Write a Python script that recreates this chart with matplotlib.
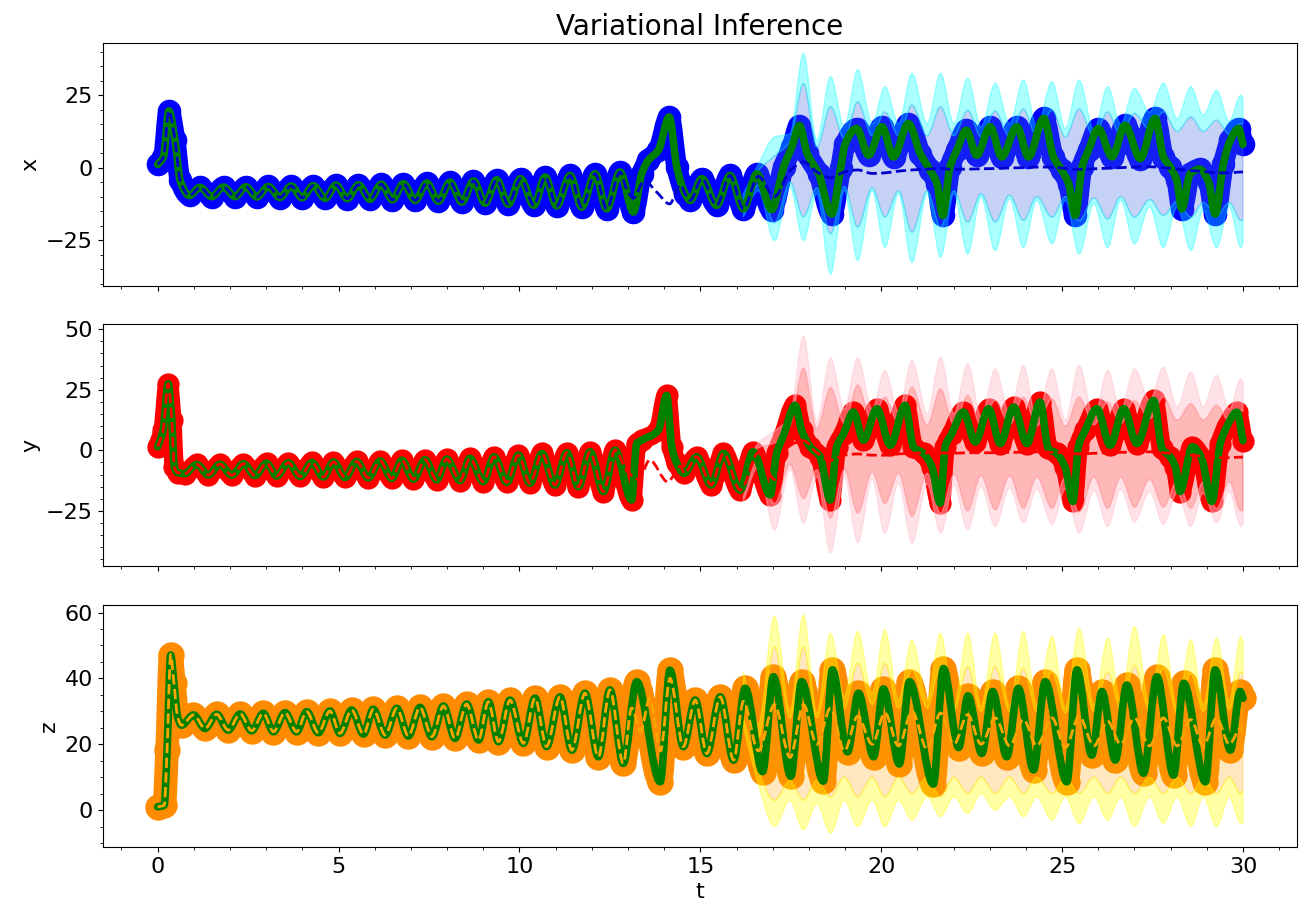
import numpy as np
import matplotlib
matplotlib.use("Agg")
import matplotlib.pyplot as plt
from matplotlib.path import Path
from matplotlib.patches import PathPatch

# ---- true trajectory (turning points of each component) ----
t_x = [0.00, 0.16, 0.31, 0.48, 0.62, 0.88, 1.17, 1.49, 1.82, 2.14, 2.44, 2.74, 3.06, 3.38, 3.69, 3.99,
       4.30, 4.63, 4.93, 5.24, 5.55, 5.87, 6.18, 6.49, 6.79, 7.12, 7.44, 7.76, 8.08, 8.41, 8.73, 9.05,
       9.37, 9.69, 10.03, 10.40, 10.71, 11.03, 11.40, 11.72, 12.09, 12.41, 12.78, 13.15, 13.38, 13.56,
       13.84, 14.14, 14.35, 14.58, 14.72, 15.04, 15.45, 15.82, 16.19, 16.56, 16.97, 17.30, 17.53, 17.74,
       17.95, 18.27, 18.63, 18.88, 19.00, 19.32, 19.65, 20.02, 20.34, 20.75, 21.08, 21.35, 21.54, 21.70,
       21.90, 22.09, 22.35, 22.64, 23.01, 23.33, 23.75, 24.07, 24.49, 24.76, 24.99, 25.18, 25.36, 25.55,
       25.73, 26.00, 26.38, 26.74, 27.16, 27.57, 27.80, 27.99, 28.17, 28.31, 28.54, 28.80, 29.05, 29.23,
       29.46, 29.65, 29.88, 30.00]
x_true = [1.1, 3.7, 19.6, 9.4, -4.4, -9.6, -6.8, -10.0, -6.7, -10.0, -6.6, -10.1, -6.5, -10.3, -6.3, -10.4,
          -6.2, -10.6, -6.0, -10.7, -5.9, -10.9, -5.7, -11.1, -5.5, -11.3, -5.3, -11.6, -5.0, -11.9, -4.6, -12.3,
          -4.2, -12.6, -3.8, -13.0, -3.2, -13.2, -2.7, -13.6, -2.1, -14.2, -1.5, -15.3, -2.1, 2.5,
          6.0, 17.5, 0.2, -9.0, -11.3, -3.8, -13.0, -2.7, -14.2, -2.1, -14.5, 0.2, 7.1, 14.5,
          5.0, -2.1, -16.0, 0.0, 8.0, 13.5, 4.3, 14.1, 3.7, 15.2, 4.8, -0.9, -5.5, -16.5,
          0.2, 6.0, 12.9, 4.3, 14.1, 3.7, 14.1, 3.7, 17.0, 3.7, -0.9, -5.5, -16.5, 0.2,
          6.0, 13.5, 3.7, 14.6, 3.1, 17.0, 3.7, 0.2, -4.4, -14.2, -2.1, -0.5, -5.0, -16.0,
          1.4, 9.4, 13.5, 8.0]

t_y = [0.00, 0.15, 0.29, 0.39, 0.46, 0.55, 0.75, 1.08, 1.40, 1.72, 2.05, 2.37, 2.69, 3.01, 3.29, 3.61,
       3.94, 4.26, 4.58, 4.86, 5.18, 5.50, 5.82, 6.15, 6.47, 6.75, 7.07, 7.39, 7.71, 7.99, 8.36, 8.63,
       9.00, 9.30, 9.65, 9.97, 10.29, 10.62, 10.98, 11.31, 11.63, 11.95, 12.32, 12.64, 13.10, 13.24,
       13.38, 13.84, 14.07, 14.21, 14.35, 14.55, 14.90, 15.30, 15.64, 16.10, 16.46, 16.93, 17.11, 17.30,
       17.62, 17.80, 18.03, 18.31, 18.59, 18.77, 18.96, 19.23, 19.51, 19.88, 20.25, 20.66, 20.89, 21.17,
       21.40, 21.63, 21.77, 21.95, 22.27, 22.60, 22.97, 23.29, 23.66, 24.03, 24.39, 24.62, 24.85, 25.08,
       25.30, 25.45, 25.64, 25.96, 26.33, 26.70, 27.07, 27.53, 27.76, 27.99, 28.13, 28.26, 28.60, 28.85,
       29.14, 29.37, 29.55, 29.83, 30.00]
y_true = [1.5, 8.3, 27.5, 12.4, -6.8, -9.2, -9.6, -5.8, -10.2, -5.7, -10.3, -5.5, -10.4, -5.3, -10.6, -5.1,
          -10.8, -5.0, -11.0, -4.8, -11.2, -4.6, -11.4, -4.4, -11.6, -4.1, -11.9, -3.9, -12.2, -3.6, -12.5, -3.3,
          -12.9, -2.7, -13.2, -2.0, -13.6, -1.3, -14.3, -1.0, -15.0, -0.6, -17.0, 0.1, -20.5, 2.8,
          4.2, 8.3, 22.7, 1.5, -5.4, -9.5, -2.7, -14.3, -1.3, -16.4, -0.6, -18.4, -1.3, 6.2,
          18.6, 8.3, 1.5, -2.7, -20.5, 1.5, 6.9, 15.8, 4.2, 17.2, 2.1, 18.6, 1.5, -1.3,
          -6.8, -21.8, 1.5, 6.9, 15.8, 3.5, 17.2, 2.8, 17.9, 2.8, 19.9, 0.8, -1.3, -6.8,
          -21.1, 1.5, 8.3, 17.2, 2.1, 17.2, 2.8, 20.6, 0.8, -2.7, -6.8, -17.0, 1.5, -3.0,
          -21.1, 2.8, 9.7, 15.8, 4.0]

t_z = [0.00, 0.18, 0.26, 0.36, 0.45, 0.55, 0.66, 0.99, 1.31, 1.63, 1.95, 2.28, 2.60, 2.92, 3.20, 3.52,
       3.84, 4.12, 4.44, 4.76, 5.04, 5.36, 5.69, 5.96, 6.29, 6.61, 6.93, 7.25, 7.58, 7.90, 8.22, 8.54,
       8.87, 9.14, 9.42, 9.74, 10.11, 10.43, 10.75, 11.12, 11.45, 11.81, 12.18, 12.50, 12.87, 13.24,
       13.89, 14.16, 14.53, 14.86, 15.18, 15.55, 15.92, 16.24, 16.72, 17.02, 17.50, 17.80, 18.40, 18.65,
       19.07, 19.37, 19.79, 20.06, 20.50, 20.78, 21.44, 21.72, 22.14, 22.40, 22.78, 23.08, 23.47, 23.79,
       24.21, 24.53, 25.13, 25.41, 25.82, 26.10, 26.47, 26.79, 27.25, 27.62, 28.08, 28.36, 28.96, 29.23,
       29.65, 29.92, 30.00]
z_true = [1.0, 1.5, 18.2, 47.1, 38.5, 28.4, 25.8, 28.9, 24.8, 29.1, 24.3, 29.2, 24.1, 29.4, 23.8, 29.6,
          23.8, 29.9, 23.5, 30.1, 23.3, 30.4, 23.1, 30.6, 22.8, 30.9, 22.5, 31.2, 22.3, 31.6, 21.8, 32.2,
          21.3, 32.9, 20.8, 33.4, 20.3, 34.0, 19.3, 34.4, 18.2, 35.5, 16.2, 36.5, 14.2, 39.0,
          8.6, 42.5, 19.3, 33.4, 17.2, 34.4, 15.2, 37.0, 11.7, 40.5, 10.3, 39.0, 8.8, 42.6,
          17.7, 35.5, 16.2, 36.8, 14.0, 39.0, 7.9, 43.0, 19.0, 34.7, 17.2, 36.0, 16.2, 37.0,
          12.2, 39.0, 8.6, 42.6, 16.7, 36.0, 15.2, 38.0, 11.2, 40.5, 10.6, 38.5, 8.6, 42.6,
          18.2, 36.0, 34.0]

# ---- posterior mean where it leaves the truth (before the forecast window) ----
t_mx_mid = [12.95, 13.15, 13.45, 13.80, 14.15, 14.45]
mean_x_mid = [-7.0, -10.5, -4.5, -8.5, -12.5, -6.0]
t_my_mid = [12.97, 13.30, 13.60, 14.10, 14.45]
mean_y_mid = [-8.5, -12.0, -4.0, -13.0, -6.5]
t_mz_mid = [13.10, 13.35, 13.60, 13.90, 14.16]
mean_z_mid = [31.0, 24.0, 34.0, 18.0, 40.0]

# ---- forecast window: posterior mean and credible bands ----
t_f = [16.19, 16.60, 17.05, 17.48, 17.85, 18.22, 18.60, 18.98, 19.35, 19.75, 20.10, 20.48, 20.85,
       21.27, 21.64, 22.01, 22.39, 22.76, 23.15, 23.55, 23.93, 24.30, 24.72, 25.09, 25.47, 25.88,
       26.26, 26.62, 27.00, 27.42, 27.80, 28.18, 28.56, 28.90, 29.27, 29.62, 29.94, 30.00]

mean_x_f = [-14.2, -3.0, -10.0, -1.0, 2.0, -1.5, -3.5, -1.5, -0.8, -2.0, -1.8, -1.2, -0.8,
            -0.5, -0.3, -0.6, -0.5, -0.4, -0.3, -0.1, 0.0, 0.2, 0.2, -0.3, -0.6, -0.4,
            -0.2, 0.0, 0.2, 0.3, 0.0, -0.5, -1.0, -1.3, -1.8, -1.8, -1.5, -1.5]
x_hi_out = [-9.0, 1.0, 10.6, 11.7, 39.4, 9.4, 31.4, 14.1, 33.7, 15.2, 27.9, 15.2, 32.5,
            15.2, 32.5, 15.2, 30.8, 14.1, 29.1, 15.2, 30.2, 14.1, 29.6, 13.5, 30.2, 12.9,
            27.9, 15.0, 27.3, 19.2, 29.1, 17.0, 27.9, 18.1, 26.7, 16.0, 25.0, 24.0]
x_hi_in = [-11.0, -1.0, 4.0, 9.0, 29.0, 7.0, 21.0, 10.0, 22.7, 11.0, 19.2, 11.0, 21.6,
           11.0, 21.0, 11.0, 19.8, 10.6, 19.5, 10.6, 20.2, 10.6, 19.8, 10.6, 20.2, 10.6,
           19.2, 11.0, 18.7, 13.0, 19.2, 12.5, 17.5, 12.5, 16.4, 11.5, 15.2, 15.0]
x_lo_in = [-16.0, -6.0, -19.0, -5.0, -17.0, -7.0, -22.8, -6.5, -20.5, -7.0, -17.0, -8.0, -22.3,
           -8.0, -20.5, -8.0, -18.8, -9.0, -18.8, -9.5, -18.2, -10.0, -17.1, -10.0, -18.2, -10.5,
           -17.7, -10.0, -17.1, -11.0, -16.5, -11.5, -17.1, -12.0, -16.5, -12.0, -18.2, -18.0]
x_lo_out = [-17.0, -8.0, -25.2, -6.7, -25.2, -9.0, -36.7, -7.9, -32.0, -7.9, -27.5, -9.0, -32.7,
            -9.0, -30.9, -9.0, -29.8, -10.2, -28.6, -10.8, -27.5, -11.3, -26.3, -11.3, -29.8, -12.5,
            -27.5, -11.3, -26.3, -13.6, -27.5, -13.6, -28.6, -14.8, -27.5, -13.6, -27.5, -26.0]

mean_y_f = [-15.0, -1.0, -12.0, 2.0, 4.0, -1.0, -4.0, -2.0, -1.5, -2.0, -2.0, -1.5, -1.2,
            -1.0, -1.0, -1.2, -1.0, -1.0, -1.0, -0.8, -0.8, -0.6, -0.8, -1.0, -1.5, -1.2,
            -1.0, -0.8, -0.8, -0.6, -1.0, -1.5, -2.0, -2.5, -3.0, -3.0, -2.8, -2.8]
y_hi_out = [-11.0, 3.0, 8.0, 14.0, 47.0, 12.0, 38.0, 17.0, 38.0, 17.0, 33.0, 15.8, 37.1,
            15.1, 38.4, 15.1, 35.7, 13.8, 33.6, 15.0, 35.0, 12.4, 33.6, 12.4, 35.0, 13.5,
            33.0, 16.5, 33.6, 20.6, 34.3, 17.9, 32.3, 17.9, 30.9, 17.0, 29.5, 28.0]
y_hi_in = [-13.0, 1.0, 3.0, 10.0, 34.0, 9.0, 26.0, 11.0, 27.0, 11.0, 22.0, 11.0, 26.1,
           10.5, 25.4, 10.5, 22.7, 10.0, 20.6, 10.5, 22.0, 10.0, 21.3, 10.0, 22.0, 10.5,
           20.0, 11.0, 20.6, 13.0, 22.0, 12.5, 19.3, 12.5, 18.6, 12.0, 16.5, 16.0]
y_lo_in = [-19.0, -4.0, -22.0, -6.0, -20.0, -8.0, -28.0, -8.0, -26.0, -9.0, -22.0, -9.5, -27.3,
           -9.5, -26.0, -10.0, -25.0, -10.5, -24.6, -10.5, -24.0, -11.0, -24.0, -11.0, -25.5, -11.0,
           -24.0, -11.0, -23.5, -12.0, -23.5, -12.5, -24.0, -13.0, -24.0, -13.0, -25.0, -25.0]
y_lo_out = [-21.0, -7.0, -32.8, -8.0, -30.0, -11.0, -42.4, -11.0, -38.0, -12.0, -34.2, -13.6, -38.3,
            -14.0, -34.2, -14.5, -32.8, -15.0, -31.4, -15.5, -30.0, -16.0, -30.6, -16.0, -34.2, -16.5,
            -31.4, -16.0, -29.5, -17.0, -30.6, -17.5, -31.4, -17.7, -30.0, -17.0, -31.4, -30.0]

mean_z_f = [33.0, 18.0, 32.0, 16.0, 32.0, 20.0, 31.0, 18.0, 28.5, 20.0, 29.5, 19.5, 30.0,
            18.5, 29.5, 20.0, 29.0, 20.0, 28.0, 19.5, 27.5, 19.5, 28.0, 19.0, 28.5, 19.5,
            27.0, 20.0, 28.0, 19.5, 28.0, 19.5, 27.5, 19.5, 28.0, 20.0, 25.0, 24.0]
z_hi_out = [42.0, 26.0, 58.8, 30.4, 59.3, 29.4, 53.7, 34.4, 54.2, 35.5, 54.7, 33.5, 51.7,
            33.5, 53.7, 31.5, 53.7, 31.5, 53.7, 31.5, 54.2, 32.0, 52.7, 31.0, 55.2, 32.0,
            52.2, 33.0, 55.7, 32.0, 53.2, 31.0, 51.7, 32.0, 52.2, 33.0, 52.7, 51.0]
z_hi_in = [38.0, 22.0, 49.6, 28.0, 49.6, 28.0, 43.6, 31.0, 44.6, 32.0, 44.6, 31.0, 42.6,
           31.0, 43.6, 30.0, 43.6, 30.0, 43.6, 30.0, 43.0, 30.0, 42.0, 29.5, 44.0, 30.0,
           42.0, 30.5, 44.0, 30.0, 43.0, 29.5, 41.5, 30.0, 42.0, 30.5, 42.0, 41.0]
z_lo_in = [28.0, 12.0, 3.0, 9.0, 3.0, 9.0, 4.0, 10.0, 4.0, 10.0, 4.0, 10.0, 5.0,
           10.0, 4.0, 10.0, 5.0, 10.0, 5.0, 10.0, 5.0, 10.0, 5.0, 10.0, 5.0, 10.0,
           5.0, 10.0, 5.0, 10.0, 5.0, 10.0, 5.0, 10.0, 5.0, 10.0, 5.0, 6.0]
z_lo_out = [25.0, 8.0, -5.0, 3.0, -6.0, 2.0, -7.0, 3.0, -5.0, 3.0, -5.0, 3.0, -3.0,
            4.0, -2.0, 4.0, -1.0, 5.0, 0.0, 4.0, -2.0, 4.0, -3.0, 4.0, -4.0, 4.0,
            -3.0, 4.0, -5.0, 4.0, -4.0, 4.0, -5.0, 4.0, -5.0, 4.0, -4.0, -4.0]


def posterior_mean(t_true, v_true, t_mid, v_mid, v_fore):
    """Mean path: equals the truth while tracking, then the mid and forecast pieces."""
    t_true = np.asarray(t_true)
    v_true = np.asarray(v_true)
    before = t_true < t_mid[0]
    after = (t_true > t_mid[-1]) & (t_true < t_f[0])
    t = np.concatenate([t_true[before], t_mid, t_true[after], t_f])
    v = np.concatenate([v_true[before], v_mid, v_true[after], v_fore])
    return t, v


def smooth_segments(t, v):
    """Cubic Bezier segments through the given points (monotone Hermite tangents)."""
    t = np.asarray(t, float)
    v = np.asarray(v, float)
    h = np.diff(t)
    d = np.diff(v) / h
    m = np.zeros_like(v)
    m[0], m[-1] = d[0], d[-1]
    for i in range(1, len(v) - 1):
        if d[i - 1] * d[i] > 0:
            w1 = 2 * h[i] + h[i - 1]
            w2 = h[i] + 2 * h[i - 1]
            m[i] = (w1 + w2) / (w1 / d[i - 1] + w2 / d[i])
    segs = []
    for i in range(len(v) - 1):
        p0 = (t[i], v[i])
        p1 = (t[i] + h[i] / 3, v[i] + m[i] * h[i] / 3)
        p2 = (t[i + 1] - h[i] / 3, v[i + 1] - m[i + 1] * h[i] / 3)
        p3 = (t[i + 1], v[i + 1])
        segs.append((p0, p1, p2, p3))
    return segs


def curve_path(t, v):
    segs = smooth_segments(t, v)
    verts = [segs[0][0]]
    codes = [Path.MOVETO]
    for _, p1, p2, p3 in segs:
        verts += [p1, p2, p3]
        codes += [Path.CURVE4] * 3
    return Path(verts, codes)


def band_path(t, lo, hi):
    upper = smooth_segments(t, hi)
    lower = smooth_segments(t, lo)
    verts = [upper[0][0]]
    codes = [Path.MOVETO]
    for _, p1, p2, p3 in upper:
        verts += [p1, p2, p3]
        codes += [Path.CURVE4] * 3
    verts.append(lower[-1][3])
    codes.append(Path.LINETO)
    for p0, p1, p2, _ in reversed(lower):
        verts += [p2, p1, p0]
        codes += [Path.CURVE4] * 3
    verts.append(upper[0][0])
    codes.append(Path.CLOSEPOLY)
    return Path(verts, codes)


def draw_curve(ax, t, v, **kw):
    ax.add_patch(PathPatch(curve_path(t, v), fill=False, **kw))


def draw_band(ax, t, lo, hi, color, alpha):
    ax.add_patch(PathPatch(band_path(t, lo, hi), facecolor=color, edgecolor=color,
                           alpha=alpha, lw=1.0, zorder=2))


panels = [
    dict(label="x", t=t_x, v=x_true, tm=t_mx_mid, vm=mean_x_mid, vf=mean_x_f,
         bands=(x_lo_out, x_lo_in, x_hi_in, x_hi_out), obs="blue", dash="mediumblue",
         inner=("royalblue", 0.30), outer=("cyan", 0.33), obs_lw=15, ylim=(-40.7, 42.9),
         ticks=[-25, 0, 25]),
    dict(label="y", t=t_y, v=y_true, tm=t_my_mid, vm=mean_y_mid, vf=mean_y_f,
         bands=(y_lo_out, y_lo_in, y_hi_in, y_hi_out), obs="red", dash="red",
         inner=("red", 0.28), outer=("pink", 0.45), obs_lw=14, ylim=(-47.9, 52.2),
         ticks=[-25, 0, 25, 50]),
    dict(label="z", t=t_z, v=z_true, tm=t_mz_mid, vm=mean_z_mid, vf=mean_z_f,
         bands=(z_lo_out, z_lo_in, z_hi_in, z_hi_out), obs="darkorange", dash="orange",
         inner=("orange", 0.25), outer=("yellow", 0.35), obs_lw=17, ylim=(-11.2, 62.4),
         ticks=[0, 20, 40, 60]),
]

fig, axes = plt.subplots(3, 1, figsize=(13.03, 9.09), dpi=100, sharex=True)
fig.subplots_adjust(left=0.0788, right=0.9956, top=0.9524, bottom=0.0682, hspace=0.158)

for ax, p in zip(axes, panels):
    # noisy observations around the trajectory
    draw_curve(ax, p["t"], p["v"], edgecolor=p["obs"], lw=p["obs_lw"],
               capstyle="round", joinstyle="round", zorder=1)
    ax.plot(p["t"], p["v"], "o", color=p["obs"], ms=p["obs_lw"] + 2, mew=0, zorder=1)
    lo_out, lo_in, hi_in, hi_out = p["bands"]
    draw_band(ax, t_f, lo_in, hi_in, *p["inner"])
    draw_band(ax, t_f, hi_in, hi_out, *p["outer"])
    draw_band(ax, t_f, lo_out, lo_in, *p["outer"])
    # true trajectory
    draw_curve(ax, p["t"], p["v"], edgecolor="green", lw=5.5, capstyle="round",
               joinstyle="round", zorder=3)
    # posterior mean
    tm, vm = posterior_mean(p["t"], p["v"], p["tm"], p["vm"], p["vf"])
    draw_curve(ax, tm, vm, edgecolor=p["dash"], lw=2, linestyle="--", zorder=4)

    ax.set_yticks(p["ticks"])
    ax.set_ylim(*p["ylim"])
    ax.set_ylabel(p["label"], fontsize=16)
    ax.minorticks_on()
    ax.tick_params(labelsize=16)

axes[0].set_xlim(-1.52, 31.5)
axes[0].set_title("Variational Inference", fontsize=20)
axes[-1].set_xlabel("t", fontsize=16)

fig.savefig("out.png", dpi=100)
